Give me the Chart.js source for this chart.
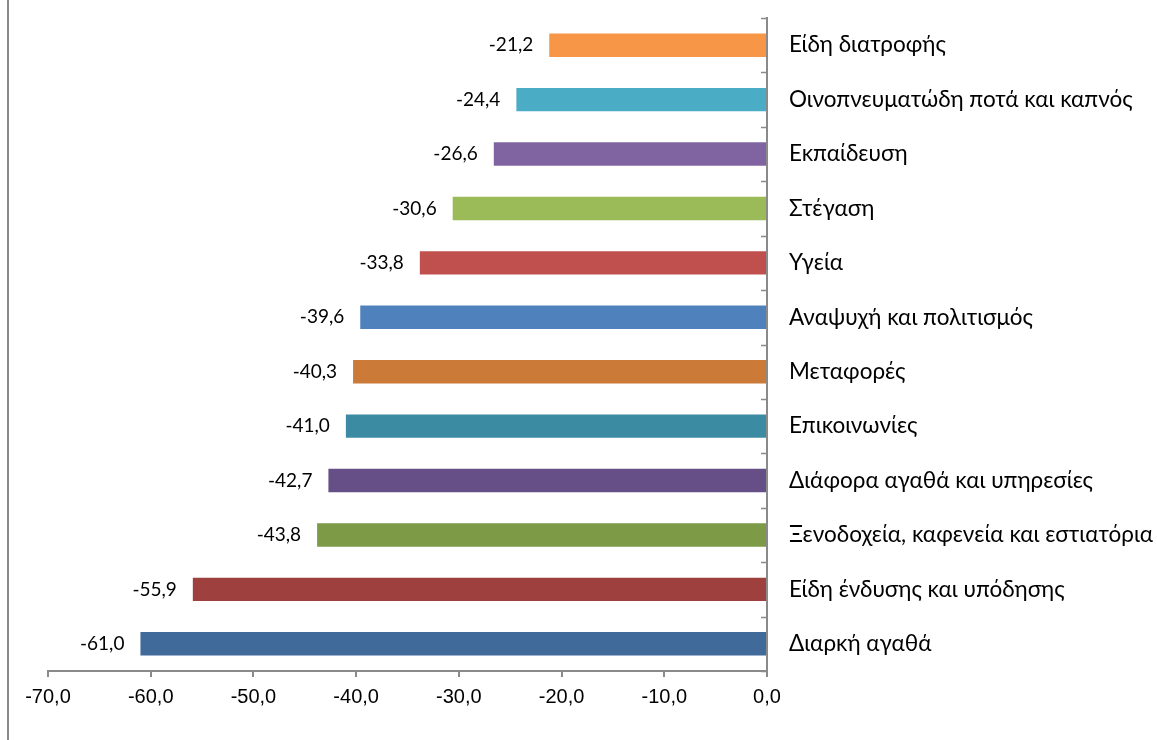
<!DOCTYPE html>
<html>
<head>
<meta charset="utf-8">
<script src="https://cdn.jsdelivr.net/npm/chart.js@4.4.1/dist/chart.umd.min.js"></script>
<style>
  body { margin: 0; background: #fff; }
  #wrap { position: relative; width: 1157px; height: 740px; }
  #edge { position: absolute; left: 7px; top: 0; width: 2px; height: 740px; background: #8a8a8a; }
</style>
</head>
<body>
<div id="wrap">
  <div id="edge"></div>
  <canvas id="chart"></canvas>
</div>
<script>
// categories top to bottom, as in the picture
var categories = [
  'Είδη διατροφής',
  'Οινοπνευματώδη ποτά και καπνός',
  'Εκπαίδευση',
  'Στέγαση',
  'Υγεία',
  'Αναψυχή και πολιτισμός',
  'Μεταφορές',
  'Επικοινωνίες',
  'Διάφορα αγαθά και υπηρεσίες',
  'Ξενοδοχεία, καφενεία και εστιατόρια',
  'Είδη ένδυσης και υπόδησης',
  'Διαρκή αγαθά'
];
var changes = [-21.2, -24.4, -26.6, -30.6, -33.8, -39.6, -40.3, -41.0, -42.7, -43.8, -55.9, -61.0];
var barColors = [
  '#f79646', '#4bacc6', '#8064a2', '#9bbb59', '#c0504d', '#4f81bd',
  '#cc7a38', '#3b8ca3', '#664e86', '#7d9a47', '#9e413e', '#3f6a9a'
];

var gray = '#8a8a8a';
function fmt(v) { return Number(v).toFixed(1).replace('.', ','); }

// value labels left of each bar
var valueLabels = {
  id: 'valueLabels',
  afterDatasetsDraw: function (chart) {
    var ctx = chart.ctx;
    var meta = chart.getDatasetMeta(0);
    ctx.save();
    ctx.font = '19px Lato';
    ctx.fillStyle = '#000';
    ctx.textAlign = 'right';
    ctx.textBaseline = 'middle';
    meta.data.forEach(function (bar, i) {
      ctx.fillText(fmt(changes[i]), bar.x - 16, bar.y);
    });
    ctx.restore();
  }
};

// small tick marks on the category axis, pointing into the plot
var innerTicks = {
  id: 'innerTicks',
  afterDraw: function (chart) {
    var y = chart.scales.y;
    var ctx = chart.ctx;
    var step = (y.bottom - y.top) / categories.length;
    ctx.save();
    ctx.strokeStyle = gray;
    ctx.lineWidth = 1.5;
    ctx.beginPath();
    for (var i = 0; i <= categories.length; i++) {
      var py = Math.round(y.top + i * step) + 0.5;
      ctx.moveTo(y.left - 6, py);
      ctx.lineTo(y.left, py);
    }
    ctx.stroke();
    ctx.restore();
  }
};

var chart = new Chart(document.getElementById('chart'), {
  type: 'bar',
  data: {
    labels: categories,
    datasets: [{
      data: changes,
      backgroundColor: barColors,
      borderWidth: 0,
      barPercentage: 0.43,
      categoryPercentage: 1
    }]
  },
  options: {
    indexAxis: 'y',
    responsive: true,
    maintainAspectRatio: false,
    animation: false,
    layout: { padding: { left: 48, top: 18, right: 0, bottom: 0 } },
    plugins: {
      legend: { display: false },
      tooltip: { enabled: false }
    },
    scales: {
      x: {
        min: -70,
        max: 0,
        ticks: {
          stepSize: 10,
          color: '#000',
          font: { family: 'Liberation Sans', size: 20 },
          padding: 8,
          callback: function (v) { return fmt(v); }
        },
        grid: { drawOnChartArea: false, drawTicks: true, tickLength: 6, color: gray, lineWidth: 2 },
        border: { color: gray, width: 2 },
        afterFit: function (s) { s.height = 69; }
      },
      y: {
        position: 'right',
        ticks: {
          color: '#000',
          font: { family: 'Lato', size: 22.5 },
          padding: 22
        },
        grid: { display: true, drawOnChartArea: false, drawTicks: false },
        border: { color: gray, width: 2 },
        afterFit: function (s) {
          s.width = 390;
          s.paddingTop = 0;
          s.paddingBottom = 0;
        }
      }
    }
  },
  plugins: [valueLabels, innerTicks]
});
</script>
</body>
</html>
